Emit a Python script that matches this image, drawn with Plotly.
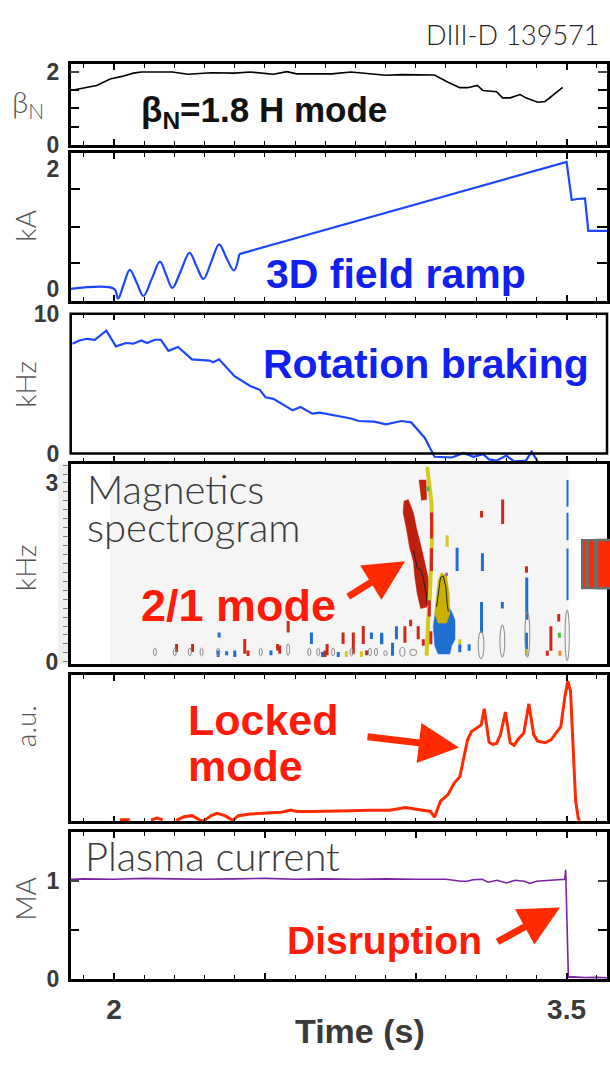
import plotly.graph_objects as go

W, H = 610, 1065

# ---------------- data ----------------
beta_t = [1.856, 1.897, 1.942, 1.987, 2.026, 2.064, 2.090, 2.193, 2.245, 2.322, 2.399, 2.451, 2.528, 2.573,
          2.605, 2.657, 2.721, 2.785, 2.850, 2.901, 2.953, 3.062, 3.107, 3.146, 3.172, 3.204, 3.223, 3.268,
          3.288, 3.313, 3.346, 3.365, 3.404, 3.429, 3.487]
beta_v = [1.49, 1.56, 1.63, 1.81, 1.88, 1.97, 2.0, 2.0, 1.94, 1.98, 1.97, 2.0, 1.94, 2.01,
          1.95, 1.95, 1.95, 2.0, 1.95, 1.91, 1.93, 1.92, 1.72, 1.57, 1.57, 1.63, 1.49, 1.46,
          1.29, 1.29, 1.38, 1.29, 1.17, 1.19, 1.58]

# 3D coil current: oscillating start (smooth) then linear ramp and steps
coil_osc_t = [1.856, 2.0, 2.013, 2.032, 2.052, 2.075, 2.097, 2.125, 2.152, 2.172, 2.193, 2.222, 2.25, 2.273,
              2.296, 2.322, 2.348, 2.372, 2.397, 2.415]
coil_osc_v = [0.0, 0.0, -0.164, 0.08, 0.317, 0.10, -0.12, 0.17, 0.454, 0.24, 0.016, 0.31, 0.602, 0.38,
              0.164, 0.45, 0.744, 0.52, 0.306, 0.58]
coil_ramp_t = [2.415, 3.5, 3.517, 3.535, 3.561, 3.572, 3.634]
coil_ramp_v = [0.58, 2.119, 1.483, 1.50, 1.511, 0.968, 0.968]

rot_t = [1.862, 1.884, 1.910, 1.936, 1.974, 2.006, 2.039, 2.064, 2.09, 2.109, 2.135, 2.155, 2.18, 2.212,
         2.258, 2.283, 2.316, 2.328, 2.348, 2.399, 2.451, 2.483, 2.502, 2.528, 2.592, 2.618, 2.657, 2.682,
         2.734, 2.785, 2.811, 2.863, 2.901, 2.953, 2.985, 3.03, 3.062, 3.12, 3.159, 3.191, 3.223, 3.243,
         3.268, 3.30, 3.326, 3.365, 3.384, 3.404]
rot_v = [7.86, 8.09, 8.21, 8.14, 8.79, 7.67, 7.91, 7.86, 8.09, 7.91, 8.14, 8.14, 7.35, 7.63,
         6.74, 6.70, 6.65, 6.53, 6.74, 5.53, 4.84, 4.56, 4.02, 3.91, 3.09, 3.33, 2.86, 2.93,
         2.70, 2.51, 2.33, 2.28, 2.09, 2.33, 2.23, 1.12, -0.23, -0.28, 0.05, -0.23, -0.05, -0.42,
         -0.51, -0.14, -0.56, -0.51, 0.14, -0.56]

lm_t = [2.019, 2.052, None, 2.122, 2.142, 2.161, None, 2.206, 2.232, 2.258, 2.283, 2.296, 2.322, 2.341,
        2.367, 2.393, 2.412, 2.451, 2.502, 2.554, 2.586, 2.605, 2.657, 2.721, 2.785, 2.85, 2.914, 2.966,
        3.004, 3.049, 3.062, 3.082, 3.107, 3.127, 3.146, 3.159, 3.172, 3.185, 3.204, 3.217, 3.227, 3.243,
        3.255, 3.268, 3.281, 3.297, 3.313, 3.326, 3.339, 3.358, 3.375, 3.391, 3.404, 3.429, 3.449, 3.468,
        3.481, 3.494, 3.504, 3.513, 3.519, 3.53, 3.539, 3.545]
lm_v = [0.0, 0.0, None, 0.0, 0.013, 0.0, None, -0.004, 0.022, 0.029, 0.0, -0.009, 0.029, 0.045,
        0.029, -0.004, 0.029, 0.04, 0.045, 0.052, 0.067, 0.058, 0.058, 0.058, 0.063, 0.067, 0.067, 0.085,
        0.074, 0.058, 0.018, 0.13, 0.175, 0.253, 0.298, 0.433, 0.556, 0.612, 0.641, 0.657, 0.769, 0.538,
        0.522, 0.529, 0.59, 0.747, 0.534, 0.516, 0.556, 0.601, 0.803, 0.59, 0.545, 0.534, 0.556, 0.612,
        0.646, 0.848, 0.96, 0.892, 0.578, 0.13, 0.007, -0.004]

ip_t = [1.856, 1.9, 2.0, 2.1, 2.2, 2.3, 2.4, 2.5, 2.6, 2.7, 2.8, 2.9, 3.0, 3.1, 3.15, 3.17, 3.19, 3.22,
        3.24, 3.27, 3.30, 3.33, 3.36, 3.378, 3.40, 3.44, 3.47, 3.494, 3.497, 3.506, 3.52, 3.56, 3.6, 3.634]
ip_v = [1.02, 1.025, 1.02, 1.03, 1.025, 1.02, 1.025, 1.03, 1.02, 1.025, 1.02, 1.025, 1.02, 1.02, 1.0, 1.0,
        1.015, 1.02, 0.99, 1.01, 0.983, 1.01, 1.0, 0.977, 1.0, 1.01, 1.01, 1.02, 1.117, 0.017, 0.02, 0.012,
        0.015, 0.01]

# spectrogram features (time s, frequency kHz)
band_t = [2.961, 2.958, 2.969, 2.980, 2.992, 2.997, 3.005, 3.016, 3.041, 3.047, 3.041, 3.030, 3.019, 3.003, 2.992, 2.975]
band_f = [2.695, 2.504, 2.231, 1.904, 1.685, 1.413, 1.14, 0.894, 0.922, 1.14, 1.413, 1.685, 1.904, 2.231, 2.504, 2.722]
band2_t = [3.011, 3.034, 3.036, 3.019]
band2_f = [3.049, 3.049, 2.722, 2.711]
yline_t = [3.038, 3.045, 3.052, 3.055, 3.052, 3.047, 3.041, 3.036]
yline_f = [3.267, 2.995, 2.667, 2.231, 1.685, 1.14, 0.703, 0.103]
yblob_t = [3.085, 3.102, 3.111, 3.113, 3.102, 3.074, 3.063, 3.067, 3.074]
yblob_f = [1.494, 1.44, 1.14, 0.812, 0.649, 0.649, 0.812, 1.031, 1.358]
bblob_t = [3.069, 3.102, 3.119, 3.130, 3.130, 3.119, 3.113, 3.074, 3.063, 3.058]
bblob_f = [0.976, 0.976, 0.84, 0.703, 0.376, 0.267, 0.13, 0.13, 0.267, 0.594]
cont1_t = [2.992, 3.005, 3.016, 3.025, 3.034, 3.038]
cont1_f = [1.876, 1.576, 1.549, 1.413, 1.14, 0.949]
cont2_t = [3.069, 3.074, 3.082, 3.091, 3.1, 3.104, 3.108]
cont2_f = [0.922, 1.14, 1.413, 1.44, 1.249, 0.976, 0.84]

seg_t = [3.288, 3.218, 3.367, 3.474, 3.448, 3.436, 2.964, 2.983, 3.008, 3.025, 3.052, 3.052, 3.045, 3.05,
         2.207, 2.26, 2.433, 2.444, 2.542, 2.549, 2.577, 2.706, 2.759, 2.793, 2.826, 2.837, 2.699,
         3.137, 3.221, 3.218, 3.287, 3.368, 3.367, 2.923, 2.936, 2.887, 3.146, 3.177, 2.348, 2.345,
         2.373, 2.4, 2.52, 2.654, 2.691, 2.743, 2.853, 2.887,
         3.104, 3.146, 3.367, 2.77, 2.82,
         3.476, 3.041, 3.102, 3.478]
seg_f0 = [2.313, 2.422, 1.494, 0.676, 0.185, 0.103, 0.321, 0.594, 0.376, 0.267, 2.067, 1.522, 0.758, 0.294,
          0.164, 0.164, 0.136, 0.098, 0.191, 0.136, 0.491, 0.109, 0.3, 0.136, 0.3, 0.109, 0.082,
          1.522, 1.522, 0.485, 0.894, 0.703, 0.212, 0.103, 0.376, 0.294, 0.158, 0.185, 0.409, 0.082,
          0.109, 0.082, 0.109, 0.3, 0.082, 0.082, 0.382, 0.3,
          1.931, 0.294, 0.103, 0.082, 0.082,
          0.403, 2.86, 1.44, 0.103]
seg_f1 = [2.722, 2.531, 1.604, 0.802, 0.594, 0.185, 0.594, 0.703, 0.594, 0.376, 2.504, 1.904, 1.031, 0.512,
          0.3, 0.3, 0.382, 0.191, 0.3, 0.273, 0.682, 0.3, 0.491, 0.491, 0.6, 0.191, 0.191,
          1.914, 1.822, 1.003, 1.003, 1.413, 0.485, 0.321, 0.594, 0.485, 0.294, 0.294, 0.491, 0.191,
          0.175, 0.191, 0.191, 0.491, 0.164, 0.164, 0.491, 0.464,
          2.122, 0.376, 0.212, 0.175, 0.175,
          0.485, 2.94, 1.494, 0.185]
seg_c = ['red'] * 27 + ['blue'] * 21 + ['yellow'] * 5 + ['green', 'green', 'magenta', 'orange']

edge_t = [3.503, 3.503, 3.503]
edge_f0 = [2.6, 2.04, 1.031]
edge_f1 = [3.049, 2.5, 1.9]

oval_t0 = [3.207, 3.279, 3.362, 3.495, 2.894, 2.947, 2.98, 2.130, 2.196, 2.246, 2.285, 2.340, 2.481, 2.572,
           2.642, 2.672, 2.721, 2.782, 2.843, 2.863]
oval_t1 = [3.226, 3.295, 3.378, 3.509, 2.905, 2.964, 3.003, 2.140, 2.206, 2.256, 2.295, 2.350, 2.491, 2.582,
           2.652, 2.682, 2.731, 2.792, 2.853, 2.873]
oval_f0 = [0.049, 0.076, 0.076, 0.02, 0.103, 0.092, 0.103, 0.098, 0.098, 0.098, 0.098, 0.098, 0.098, 0.109,
           0.098, 0.098, 0.098, 0.098, 0.098, 0.098]
oval_f1 = [0.512, 0.621, 0.84, 0.87, 0.185, 0.24, 0.212, 0.229, 0.229, 0.229, 0.229, 0.229, 0.229, 0.3,
           0.229, 0.229, 0.229, 0.229, 0.229, 0.229]

spec_bg_t = [1.987, 3.506]

x_tick_vals = [2, 2.5, 3, 3.5]
x_tick_text = ['2', '', '', '3.5']

# ---------------- helpers ----------------
def px(x):
    return x / W


def py(y):
    return 1 - y / H


def dom(top, bot):
    return [1 - bot / H, 1 - top / H]


SEG_COLORS = {'red': '#cc2a1c', 'blue': '#1f6fd0', 'yellow': '#d6ca1e', 'green': '#3ec43e',
              'magenta': '#d24ad2', 'orange': '#e08a1e'}

fig = go.Figure()

fig.add_trace(go.Scatter(x=beta_t, y=beta_v, xaxis='x', yaxis='y', mode='lines',
                         line=dict(color='black', width=1.6), hoverinfo='skip'))
fig.add_trace(go.Scatter(x=coil_osc_t, y=coil_osc_v, xaxis='x2', yaxis='y2', mode='lines',
                         line=dict(color='#1e46ff', width=2.2, shape='spline', smoothing=1.0),
                         hoverinfo='skip'))
fig.add_trace(go.Scatter(x=coil_ramp_t, y=coil_ramp_v, xaxis='x2', yaxis='y2', mode='lines',
                         line=dict(color='#1e46ff', width=2.2), hoverinfo='skip'))
fig.add_trace(go.Scatter(x=rot_t, y=rot_v, xaxis='x3', yaxis='y3', mode='lines',
                         line=dict(color='#1e46ff', width=2.2), hoverinfo='skip'))

# spectrogram
def poly(t, f, color, lw=0.5):
    fig.add_trace(go.Scatter(x=t + [t[0]], y=f + [f[0]], xaxis='x4', yaxis='y4', mode='lines',
                             fill='toself', fillcolor=color, line=dict(color=color, width=lw),
                             hoverinfo='skip'))

poly(band_t, band_f, '#bd200c')
poly(band2_t, band2_f, '#c0220e')
fig.add_trace(go.Scatter(x=yline_t, y=yline_f, xaxis='x4', yaxis='y4', mode='lines',
                         line=dict(color='#d6ca1e', width=4), hoverinfo='skip'))
poly(bblob_t, bblob_f, '#1f6fd0')
poly(yblob_t, yblob_f, '#c9b100')

for key, col in SEG_COLORS.items():
    xs, ys = [], []
    for t, a, b, c in zip(seg_t, seg_f0, seg_f1, seg_c):
        if c == key:
            xs += [t, t, None]
            ys += [a, b, None]
    fig.add_trace(go.Scatter(x=xs, y=ys, xaxis='x4', yaxis='y4', mode='lines',
                             line=dict(color=col, width=3), hoverinfo='skip'))
xs, ys = [], []
for t, a, b in zip(edge_t, edge_f0, edge_f1):
    xs += [t, t, None]
    ys += [a, b, None]
fig.add_trace(go.Scatter(x=xs, y=ys, xaxis='x4', yaxis='y4', mode='lines',
                         line=dict(color='#1f6fd0', width=2), hoverinfo='skip'))
for ct, cf in ((cont1_t, cont1_f), (cont2_t, cont2_f)):
    fig.add_trace(go.Scatter(x=ct, y=cf, xaxis='x4', yaxis='y4', mode='lines',
                             line=dict(color='#222222', width=1), hoverinfo='skip'))

fig.add_trace(go.Scatter(x=lm_t, y=lm_v, xaxis='x5', yaxis='y5', mode='lines',
                         line=dict(color='#ff2a00', width=3), hoverinfo='skip', connectgaps=False))
fig.add_trace(go.Scatter(x=ip_t, y=ip_v, xaxis='x6', yaxis='y6', mode='lines',
                         line=dict(color='#7a22a6', width=1.6), hoverinfo='skip'))

# ---------------- axes ----------------
tickfont = dict(family='Liberation Sans', size=23, color='#3a3a3a', weight='bold')
xtickfont = dict(family='Liberation Sans', size=28, color='#3a3a3a', weight='bold')
panels = [(52.7, 135), (143.3, 295), (308.3, 460.2), (462.3, 667.7), (679, 828.5), (840, 990)]


def xaxis(anchor):
    return dict(domain=[px(70.7), px(607)], range=[1.856, 3.634], showgrid=False, zeroline=False,
                showline=True, linecolor='black', linewidth=2.5, mirror='allticks',
                ticks='inside', ticklen=6, tickwidth=1.5, tickcolor='black',
                tickmode='array', tickvals=x_tick_vals, ticktext=x_tick_text, showticklabels=False,
                minor=dict(tick0=1.8, dtick=0.1, ticks='inside', ticklen=4, tickwidth=1.2, tickcolor='black'),
                tickfont=xtickfont, anchor=anchor, fixedrange=True)


layout_axes = {}
for i in range(6):
    name = 'xaxis' if i == 0 else f'xaxis{i + 1}'
    layout_axes[name] = xaxis('y' if i == 0 else f'y{i + 1}')
layout_axes['xaxis6']['showticklabels'] = True
layout_axes['xaxis6']['ticklabelstandoff'] = 4
layout_axes['xaxis4'].update(ticks='', minor=dict(ticks=''))
layout_axes['xaxis3'].update(linecolor='rgba(0,0,0,0)')

ybase = dict(showgrid=False, zeroline=False, showline=True, linecolor='black', linewidth=2.5,
             mirror='allticks', tickfont=tickfont, tickmode='array', fixedrange=True,
             ticklabelstandoff=4)

layout_axes['yaxis'] = dict(ybase, domain=dom(*panels[0]), range=[0, 2.21], anchor='x',
                            tickvals=[0, 2], ticktext=['0', '2'], ticks='inside', ticklen=9, tickwidth=1.5,
                            minor=dict(tickmode='array', tickvals=[0.5, 1, 1.5], ticks='inside', ticklen=9,
                                       tickwidth=1.5, tickcolor='black'))
layout_axes['yaxis2'] = dict(ybase, domain=dom(*panels[1]), range=[-0.2, 2.272], anchor='x2',
                             tickvals=[0, 2], ticktext=['0', '2'], ticks='',
                             minor=dict(tickmode='array', tickvals=[0.424, 1.038, 1.663], ticks='inside',
                                        ticklen=10, tickwidth=1.5, tickcolor='black'))
layout_axes['yaxis3'] = dict(ybase, domain=dom(*panels[2]), range=[-0.6, 10], anchor='x3',
                             tickvals=[0, 10], ticktext=['0', '10'], ticks='', linecolor='rgba(0,0,0,0)')
layout_axes['yaxis4'] = dict(ybase, domain=dom(*panels[3]), range=[-0.044, 3.318], anchor='x4',
                             tickvals=[0, 3], ticktext=['0', '3'], ticks='outside', ticklen=5, tickwidth=1,
                             tickcolor='#777777', mirror=True, ticklabelstandoff=0,
                             minor=dict(tickmode='array', tickvals=[0.15 * k for k in range(1, 23)],
                                        ticks='outside', ticklen=5, tickwidth=1, tickcolor='#777777'))
layout_axes['yaxis5'] = dict(ybase, domain=dom(*panels[4]), range=[-0.01, 1.0], anchor='x5',
                             tickvals=[], ticks='', showticklabels=False)
layout_axes['yaxis6'] = dict(ybase, domain=dom(*panels[5]), range=[0, 1.5], anchor='x6',
                             tickvals=[0, 1], ticktext=['0', '1'], ticks='inside', ticklen=9, tickwidth=1.5,
                             minor=dict(tickmode='array', tickvals=[0.5], ticks='inside', ticklen=9,
                                        tickwidth=1.5, tickcolor='black'))

# ---------------- shapes ----------------
shapes = [
    dict(type='rect', xref='x4', yref='paper', x0=spec_bg_t[0], x1=spec_bg_t[1], y0=py(667.7), y1=py(462.3),
         fillcolor='#f5f5f5', line=dict(width=0), layer='below'),
    dict(type='rect', xref='paper', yref='paper', x0=px(58), x1=px(70), y0=py(667.7), y1=py(462.3),
         fillcolor='#efefef', line=dict(width=0), layer='below'),
    dict(type='rect', xref='paper', yref='paper', x0=px(70.7), x1=px(607), y0=py(451.6), y1=py(308.3),
         line=dict(color='black', width=2.5)),
    dict(type='rect', xref='paper', yref='paper', x0=px(582), x1=px(586), y0=py(589.7), y1=py(540.3),
         fillcolor='#ff2a00', line=dict(color='#6e6e6e', width=2)),
    dict(type='rect', xref='paper', yref='paper', x0=px(588), x1=px(595), y0=py(589.7), y1=py(540.3),
         fillcolor='#ff2a00', line=dict(color='#6e6e6e', width=2)),
    dict(type='rect', xref='paper', yref='paper', x0=px(597), x1=px(612), y0=py(589.7), y1=py(540.3),
         fillcolor='#ff2a00', line=dict(color='#6e6e6e', width=2.5)),
]
for a, b, c, d in zip(oval_t0, oval_t1, oval_f0, oval_f1):
    shapes.append(dict(type='circle', xref='x4', yref='y4', x0=a, x1=b, y0=c, y1=d,
                       line=dict(color='#8a8a8a', width=1)))

# ---------------- annotations ----------------
BOLD = 'Liberation Sans'
LIGHT = 'Lato'
ann = []


def text(x, y, s, size, color, family=BOLD, weight='bold', xanchor='left', angle=0):
    ann.append(dict(x=px(x), y=py(y), xref='paper', yref='paper', text=s, showarrow=False,
                    xanchor=xanchor, yanchor='middle', textangle=angle, borderpad=0,
                    font=dict(family=family, size=size, color=color, weight=weight)))


def arrow(hx, hy, tx, ty):
    ann.append(dict(x=px(hx), y=py(hy), xref='paper', yref='paper', ax=tx - hx, ay=ty - hy,
                    axref='pixel', ayref='pixel', text='', showarrow=True, arrowhead=2,
                    arrowsize=1.15, arrowwidth=7, arrowcolor='#ff2a00', standoff=0, startstandoff=0))


text(600, 22, 'DIII-D 139571', 27, '#222222', LIGHT, 300, 'right')
text(140, 101, 'β<sub>N</sub>=1.8 H mode', 35, '#111111')
text(265, 268, '3D field ramp', 41, '#1020f0')
text(262, 360, 'Rotation braking', 41, '#1020f0')
text(86, 488, 'Magnetics', 40, '#3a3a3a', LIGHT, 300)
text(86, 527, 'spectrogram', 40, '#3a3a3a', LIGHT, 300)
text(140, 607, '2/1 mode', 45, '#ff1a0a')
text(187, 725, 'Locked', 43, '#ff1a0a')
text(187, 772, 'mode', 43, '#ff1a0a')
text(84, 864, 'Plasma current', 40, '#3a3a3a', LIGHT, 300)
text(286, 951, 'Disruption', 39, '#ff1a0a')
text(360, 1043, 'Time (s)', 34, '#3a3a3a', xanchor='center')

# axis titles
text(28, 92, 'β<sub>N</sub>', 30, '#555555', LIGHT, 300, 'center')
text(25, 218, 'kA', 28, '#555555', LIGHT, 300, 'center', -90)
text(25, 380, 'kHz', 28, '#555555', LIGHT, 300, 'center', -90)
text(25, 568, 'kHz', 28, '#555555', LIGHT, 300, 'center', -90)
text(25, 731, 'a.u.', 28, '#555555', LIGHT, 300, 'center', -90)
text(25, 908, 'MA', 28, '#555555', LIGHT, 300, 'center', -90)

arrow(405, 562, 346.7, 598.3)
arrow(459, 753, 366, 742)
arrow(560, 917, 496, 952)

fig.update_layout(width=W, height=H, margin=dict(l=0, r=0, t=0, b=0), showlegend=False,
                  paper_bgcolor='white', plot_bgcolor='white', shapes=shapes, annotations=ann,
                  **layout_axes)

fig.write_html('out.html')
